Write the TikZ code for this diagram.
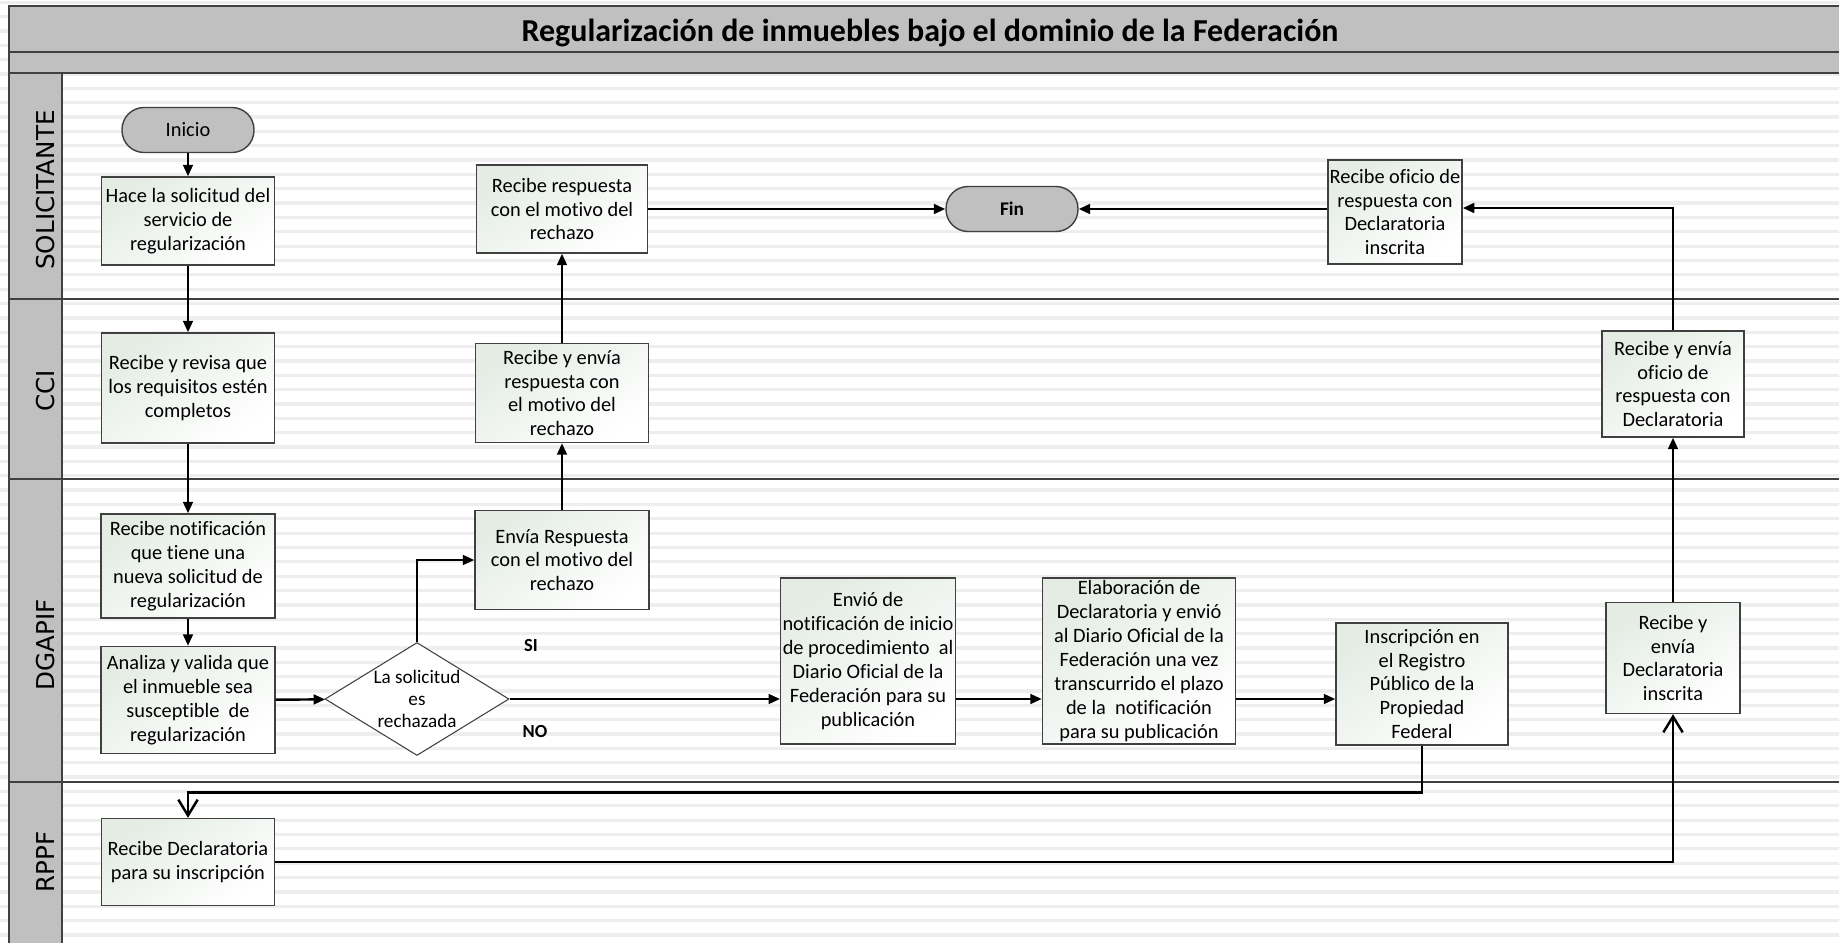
\documentclass[tikz,border=0pt]{standalone}
\usepackage{fontspec}
\setmainfont{Carlito}[Ligatures=NoCommon]
\newfontfamily\carrilfont{DejaVu Sans}
\usetikzlibrary{shapes.geometric, arrows.meta}

\definecolor{banda}{RGB}{192,192,192}
\definecolor{raya}{RGB}{238,238,238}
\definecolor{borde}{RGB}{64,64,64}
\definecolor{verdoso}{RGB}{228,236,228}

\begin{document}
\begin{tikzpicture}[x=0.02cm, y=-0.02cm,
    texto/.style={font=\fontsize{11.6pt}{13.6pt}\selectfont},
    paso/.style={texto, draw=borde, line width=0.8pt, top color=verdoso, bottom color=white, shading angle=35, align=center, inner sep=1pt},
    terminal/.style={texto, draw=borde, line width=0.8pt, fill=banda, rounded corners=0.44cm, minimum width=2.64cm, minimum height=0.9cm},
    decision/.style={diamond, draw=borde, line width=0.6pt, fill=white, aspect=1.6, inner sep=0pt, minimum width=3.68cm, minimum height=2.26cm, align=center, font=\fontsize{10.9pt}{12.6pt}\selectfont},
    marco/.style={draw=borde, line width=1.1pt},
    flecha/.style={line width=1.4pt, -{Triangle[length=6.5pt, width=5.5pt]}},
    flechaabierta/.style={line width=1.6pt, -{Straight Barb[length=9pt, width=11pt, line width=1.4pt]}},
    carril/.style={font=\carrilfont\fontsize{14pt}{14pt}\selectfont, rotate=90},
    rotulo/.style={font=\bfseries\fontsize{10.5pt}{12pt}\selectfont}]
    \useasboundingbox (0, 0) rectangle (1839, 943);
    \clip (0, 0) rectangle (1839, 943);
    \fill[white] (0, 0) rectangle (1839, 943);
    \foreach \k in {0,...,65}
        \draw[raya, line width=0.065cm] (0, {2.2 + 14.35*\k}) -- (1839, {2.2 + 14.35*\k});

    \draw[marco, fill=banda] (9, 6) rectangle (1850, 52);
    \draw[marco, fill=banda] (9, 52) rectangle (1850, 73);
    \draw[marco, fill=banda] (9, 73) rectangle (62, 950);
    \draw[marco] (62, 299) -- (1850, 299);
    \draw[marco] (62, 479) -- (1850, 479);
    \draw[marco] (9, 782) -- (1850, 782);
    \draw[marco] (9, 299) -- (62, 299);
    \draw[marco] (9, 479) -- (62, 479);

    \node[font=\bfseries\fontsize{18.2pt}{20pt}\selectfont] (titulo) at (930, 33) {Regularización de inmuebles bajo el dominio de la Federación};

    \node[carril] (solicitante) at (46, 190) {SOLICITANTE};
    \node[carril] (cci) at (46, 391) {CCI};
    \node[carril] (dgapif) at (46, 645) {DGAPIF};
    \node[carril] (rppf) at (46, 862) {RPPF};

    \node[terminal] (inicio) at (188, 130) {Inicio};
    \node[paso, minimum width=3.46cm, minimum height=1.76cm] (solicitud) at (188, 221) {Hace la solicitud del\\servicio de\\regularización};
    \node[paso, minimum width=3.46cm, minimum height=2.2cm] (revisa) at (188, 388) {Recibe y revisa que\\los requisitos estén\\completos};
    \node[paso, minimum width=3.48cm, minimum height=2.08cm] (notifica) at (188, 566) {Recibe notificación\\que tiene una\\nueva solicitud de\\regularización};
    \node[paso, minimum width=3.48cm, minimum height=2.14cm] (analiza) at (188, 700) {Analiza y valida que\\el inmueble sea\\susceptible~ de\\regularización};
    \node[decision] (rechaza) at (417, 699) {La solicitud\\es\\rechazada};
    \node[rotulo] (si) at (531, 646) {SI};
    \node[rotulo] (no) at (535, 732) {NO};

    \node[paso, minimum width=3.48cm, minimum height=1.98cm] (envia) at (562, 560) {Envía Respuesta\\con el motivo del\\rechazo};
    \node[paso, minimum width=3.46cm, minimum height=1.98cm] (reenvia) at (562, 393) {Recibe y envía\\respuesta con\\el motivo del\\rechazo};
    \node[paso, minimum width=3.42cm, minimum height=1.76cm] (respuesta) at (562, 209) {Recibe respuesta\\con el motivo del\\rechazo};
    \node[terminal, font=\bfseries\fontsize{11pt}{13.4pt}\selectfont] (fin) at (1012, 209) {Fin};

    \node[paso, minimum width=3.48cm, minimum height=3.32cm] (dof) at (868, 661) {Envió de\\notificación de inicio\\de procedimiento~ al\\Diario Oficial de la\\Federación para su\\publicación};
    \node[paso, minimum width=3.86cm, minimum height=3.32cm] (elabora) at (1139, 661) {Elaboración de\\Declaratoria y envió\\al Diario Oficial de la\\Federación una vez\\transcurrido el plazo\\de la~ notificación\\para su publicación};
    \node[paso, minimum width=3.44cm, minimum height=2.44cm] (inscribe) at (1422, 684) {Inscripción en\\el Registro\\Público de la\\Propiedad\\Federal};
    \node[paso, minimum width=3.46cm, minimum height=1.74cm] (recibedecl) at (188, 862) {Recibe Declaratoria\\para su inscripción};

    \node[paso, minimum width=2.68cm, minimum height=2.22cm] (declara) at (1673, 658) {Recibe y\\envía\\Declaratoria\\inscrita};
    \node[paso, minimum width=2.84cm, minimum height=2.12cm] (reoficio) at (1673, 384) {Recibe y envía\\oficio de\\respuesta con\\Declaratoria};
    \node[paso, minimum width=2.68cm, minimum height=2.08cm] (oficio) at (1395, 212) {Recibe oficio de\\respuesta con\\Declaratoria\\inscrita};

    \draw[flecha] (inicio) -- (solicitud);
    \draw[flecha] (solicitud) -- (revisa);
    \draw[flecha] (revisa) -- (notifica);
    \draw[flecha] (notifica) -- (analiza);
    \draw[flecha] (analiza) -- (rechaza);
    \draw[flecha] (rechaza.north) |- (envia.west);
    \draw[flecha] (envia) -- (reenvia);
    \draw[flecha] (reenvia) -- (respuesta);
    \draw[flecha] (respuesta) -- (fin);

    \draw[flecha] (rechaza.east) -- (rechaza.east -| dof.west);
    \draw[flecha] (dof.east |- rechaza.east) -- (elabora.west |- rechaza.east);
    \draw[flecha] (elabora.east |- rechaza.east) -- (inscribe.west |- rechaza.east);
    \draw[flechaabierta] (inscribe.south) -- ++(0, 47) -| (recibedecl.north);
    \draw[flechaabierta] (recibedecl.east) -| (declara.south);
    \draw[flecha] (declara) -- (reoficio);
    \draw[flecha] (reoficio.north) |- ([yshift=0.08cm]oficio.east);
    \draw[flecha] (oficio.west |- fin.east) -- (fin.east);
\end{tikzpicture}
\end{document}
